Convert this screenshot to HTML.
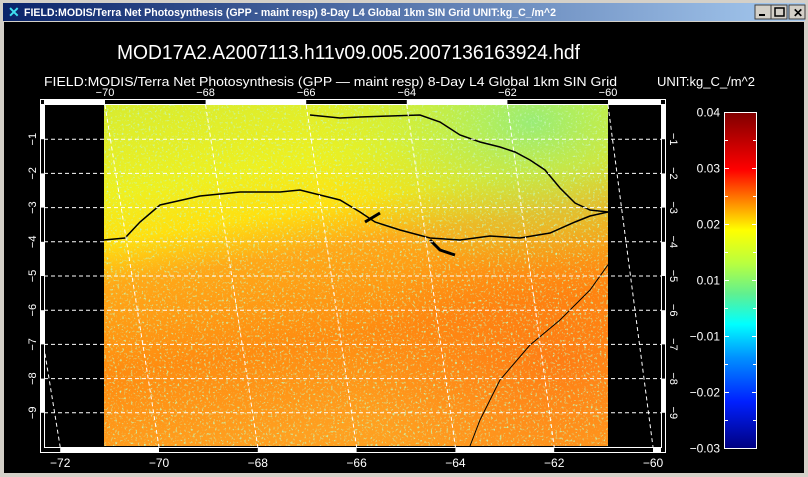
<!DOCTYPE html>
<html><head><meta charset="utf-8"><style>
html,body{margin:0;padding:0;background:#d4d0c8;}
svg{display:block;}
text{font-family:"Liberation Sans",sans-serif;}
</style></head><body>
<svg id="s" width="808" height="477" viewBox="0 0 808 477" xmlns="http://www.w3.org/2000/svg">
<defs>
<linearGradient id="tb" x1="0" x2="1"><stop offset="0" stop-color="#0a246a"/><stop offset="1" stop-color="#a6caf0"/></linearGradient>
<linearGradient id="mapv" x1="0" y1="0" x2="0.25" y2="1">
<stop offset="0" stop-color="#d8ec30"/><stop offset="0.25" stop-color="#eef020"/><stop offset="0.38" stop-color="#ffe010"/><stop offset="0.5" stop-color="#ffa818"/><stop offset="0.75" stop-color="#ff8c10"/><stop offset="1" stop-color="#ffa020"/></linearGradient>
<radialGradient id="gtr" cx="0.85" cy="0.05" r="0.45"><stop offset="0" stop-color="#90ec80" stop-opacity="0.9"/><stop offset="1" stop-color="#c0f040" stop-opacity="0"/></radialGradient>
<radialGradient id="orr" cx="0.9" cy="0.75" r="0.4"><stop offset="0" stop-color="#ff7010" stop-opacity="0.7"/><stop offset="1" stop-color="#ff7010" stop-opacity="0"/></radialGradient>
<linearGradient id="cb" x1="0" y1="0" x2="0" y2="1">
<stop offset="0" stop-color="#800000"/><stop offset="0.17" stop-color="#ff0000"/><stop offset="0.26" stop-color="#ff8000"/><stop offset="0.35" stop-color="#ffff00"/><stop offset="0.45" stop-color="#b8ff40"/><stop offset="0.54" stop-color="#60f090"/><stop offset="0.63" stop-color="#00ffff"/><stop offset="0.73" stop-color="#0090ff"/><stop offset="0.86" stop-color="#0020ff"/><stop offset="1" stop-color="#000080"/></linearGradient>
<filter id="nz" x="0" y="0" width="1" height="1"><feTurbulence type="fractalNoise" baseFrequency="0.45" numOctaves="2" seed="4"/><feColorMatrix values="0 0 0 0 0.55  0 0 0 0 0.92  0 0 0 0 0.45  4 0 0 0 -2.3"/></filter>
<clipPath id="mc"><rect x="104" y="105" width="504" height="341"/></clipPath>
<clipPath id="fc"><rect x="45" y="105" width="616" height="342"/></clipPath>
</defs>
<rect x="0" y="0" width="808" height="477" fill="#d4d0c8"/>
<rect x="3" y="3" width="802" height="18" fill="url(#tb)"/>
<text x="8" y="17" font-size="14" fill="#40e0f0" font-weight="bold">✕</text>
<text x="24" y="16" font-size="11" font-weight="bold" fill="#fff" textLength="532" lengthAdjust="spacingAndGlyphs">FIELD:MODIS/Terra Net Photosynthesis (GPP - maint resp) 8-Day L4 Global 1km SIN Grid   UNIT:kg_C_/m^2</text>
<g><rect x="755" y="5" width="16" height="14" fill="#d4d0c8" stroke="#404040"/><rect x="759" y="14" width="6" height="2" fill="#000"/></g>
<g><rect x="771" y="5" width="16" height="14" fill="#d4d0c8" stroke="#404040"/><rect x="775" y="8" width="9" height="8" fill="none" stroke="#000" stroke-width="1.5"/></g>
<g><rect x="789" y="5" width="16" height="14" fill="#d4d0c8" stroke="#404040"/><text x="793" y="17" font-size="12" font-weight="bold" fill="#000">✕</text></g>
<rect x="4" y="22" width="800" height="451" fill="#000"/>
<text x="117" y="59" font-size="20" fill="#fff" textLength="463" lengthAdjust="spacingAndGlyphs">MOD17A2.A2007113.h11v09.005.2007136163924.hdf</text>
<text x="44" y="86" font-size="13" fill="#fff" textLength="573" lengthAdjust="spacingAndGlyphs">FIELD:MODIS/Terra Net Photosynthesis (GPP — maint resp) 8-Day L4 Global 1km SIN Grid</text>
<text x="657" y="86" font-size="13" fill="#fff" textLength="98" lengthAdjust="spacingAndGlyphs">UNIT:kg_C_/m^2</text>
<g clip-path="url(#mc)">
<rect x="104" y="105" width="504" height="341" fill="url(#mapv)"/>
<rect x="104" y="105" width="504" height="341" fill="url(#gtr)"/>
<rect x="104" y="105" width="504" height="341" fill="url(#orr)"/>
<rect x="104" y="105" width="504" height="341" filter="url(#nz)"/>
</g>
<g id="rivers" fill="none" stroke="#000" stroke-width="1.5">
<polyline points="310,115 340,118 360,117 390,116 420,115 440,122 460,135 480,142 500,147 515,152 530,160 545,170 560,188 575,203 590,210 608,212"/>
<polyline points="104,240 125,238 140,222 160,205 200,196 240,192 280,192 300,190 320,195 340,200 360,212 375,222 400,230 430,238 460,240 490,236 520,238 550,233 575,222 590,216 608,212"/>
<polyline points="430,240 440,250 455,255" stroke-width="3"/>
<polyline points="365,222 380,213" stroke-width="3"/>
<polyline points="610,262 590,290 560,320 530,345 500,380 480,420 470,446" stroke-width="1"/>
</g>
<g id="grid" clip-path="url(#fc)"></g>
<g id="frame"></g>
<g id="axes"></g>
<rect x="724.5" y="112.5" width="32" height="336" fill="url(#cb)" stroke="#fff" stroke-width="1"/>
<g id="cbticks"></g>
</svg>
<script>
const lonTicks=[-72,-70,-68,-66,-64,-62,-60];
const latTicks=[-1,-2,-3,-4,-5,-6,-7,-8,-9];
const cbLabels=["0.04","0.03","0.02","0.01","-0.01","-0.02","-0.03"];
const NS="http://www.w3.org/2000/svg";
function mk(tag,attrs,parent){const e=document.createElementNS(NS,tag);for(const k in attrs)e.setAttribute(k,attrs[k]);parent.appendChild(e);return e;}
const topX=lon=>105+(lon+70)*50.3;
const botX=lon=>159+(lon+70)*49.4;
const latY=lat=>105+(-lat)*34.2;
const grid=document.getElementById('grid'),frame=document.getElementById('frame'),axes=document.getElementById('axes');
latTicks.forEach(l=>{const y=latY(l);
 const ln=mk('line',{x1:44,x2:661,y1:y,y2:y,stroke:'#fff','stroke-dasharray':'4,3','stroke-width':1},grid);
 
 });
lonTicks.forEach(l=>{
 const ln=mk('line',{x1:topX(l),y1:105,x2:botX(l),y2:447,stroke:'#fff','stroke-dasharray':'4,3','stroke-width':1},grid);
 
 });
mk('rect',{x:40.5,y:99.5,width:625,height:353,fill:'none',stroke:'#fff'},frame);
mk('rect',{x:44.5,y:104.5,width:617,height:343,fill:'none',stroke:'#fff'},frame);
const tops=[44].concat(lonTicks.slice(1).map(topX)).concat([661]);
for(let i=0;i<tops.length-1;i++){ if(i%2===0) mk('rect',{x:tops[i],y:100,width:tops[i+1]-tops[i],height:4,fill:'#fff'},frame);}
const bots=[44].concat(lonTicks.map(botX)).concat([661]);
for(let i=0;i<bots.length-1;i++){ if(i%2===1) mk('rect',{x:bots[i],y:448,width:bots[i+1]-bots[i],height:4,fill:'#fff'},frame);}
const ys=[104].concat(latTicks.map(latY)).concat([447]);
for(let i=0;i<ys.length-1;i++){ if(i%2===0){mk('rect',{x:41,y:ys[i],width:3,height:ys[i+1]-ys[i],fill:'#fff'},frame);mk('rect',{x:662,y:ys[i],width:3,height:ys[i+1]-ys[i],fill:'#fff'},frame);}}
lonTicks.slice(1).forEach(l=>{const t=mk('text',{x:topX(l),y:96,'font-size':11,fill:'#fff','text-anchor':'middle'},axes);t.textContent='−'+Math.abs(l);
 
 });
lonTicks.forEach(l=>{const t=mk('text',{x:botX(l),y:467,'font-size':12,fill:'#fff','text-anchor':'middle'},axes);t.textContent='−'+Math.abs(l);
 
 });
latTicks.forEach(l=>{const y=latY(l);
 const t=mk('text',{x:0,y:0,'font-size':11,fill:'#fff','text-anchor':'middle',transform:`translate(36,${y}) rotate(-90)`},axes);t.textContent='−'+Math.abs(l);
 
 
 const r=mk('text',{x:0,y:0,'font-size':11,fill:'#fff','text-anchor':'middle',transform:`translate(670,${y}) rotate(90)`},axes);r.textContent='−'+Math.abs(l);
 
 });
const cbt=document.getElementById('cbticks');
const cbY=i=>112.5+i*(336/(cbLabels.length-1));
cbLabels.forEach((s,i)=>{const y=cbY(i);
 const t=mk('text',{x:720,y:y+4,'font-size':12,fill:'#fff','text-anchor':'end'},cbt);t.textContent=s.replace('-','−');
 
 
 mk('line',{x1:724,x2:729,y1:y,y2:y,stroke:'#fff'},cbt);mk('line',{x1:752,x2:757,y1:y,y2:y,stroke:'#fff'},cbt);
 if(i<cbLabels.length-1){const m=y+336/(cbLabels.length-1)/2;mk('line',{x1:724,x2:728,y1:m,y2:m,stroke:'#fff'},cbt);mk('line',{x1:753,x2:757,y1:m,y2:m,stroke:'#fff'},cbt);}
});
</script>
</body></html>
